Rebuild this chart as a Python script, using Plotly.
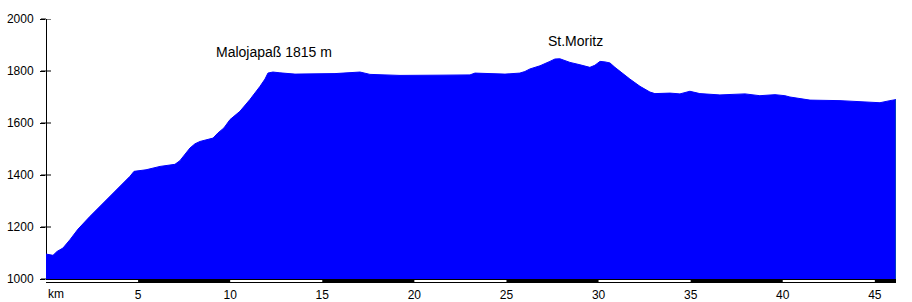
import plotly.graph_objects as go

# Elevation profile (km, m)
km = [0.0, 0.38, 0.60, 0.92, 1.30, 1.74, 2.39, 3.20, 4.02, 4.56, 4.78, 5.43, 6.19, 7.00,
      7.27, 7.55, 7.82, 8.09, 8.36, 9.07, 9.34, 9.66, 9.99, 10.53, 11.07, 11.62, 11.89,
      12.05, 12.32, 12.70, 13.52, 15.69, 17.05, 17.59, 19.22, 21.39, 23.02, 23.29, 24.65,
      24.92, 25.73, 26.00, 26.28, 26.82, 27.36, 27.63, 27.90, 28.45, 28.99, 29.53, 29.80,
      30.08, 30.35, 30.62, 30.89, 31.16, 31.70, 32.25, 32.79, 33.06, 33.88, 34.42, 34.96,
      35.50, 36.59, 37.95, 38.76, 39.58, 40.12, 40.39, 40.93, 41.48, 43.11, 44.19, 45.28,
      45.82, 46.15]
elev = [1096, 1091, 1106, 1119, 1151, 1192, 1241, 1298, 1356, 1395, 1414, 1420, 1433, 1441,
        1455, 1478, 1504, 1520, 1529, 1542, 1562, 1581, 1613, 1645, 1690, 1741, 1769,
        1792, 1796, 1793, 1788, 1790, 1796, 1787, 1783, 1784, 1785, 1792, 1789,
        1788, 1792, 1798, 1808, 1820, 1837, 1846, 1847, 1833, 1824, 1814, 1822,
        1837, 1835, 1831, 1814, 1798, 1769, 1741, 1719, 1713, 1715, 1712, 1722,
        1713, 1708, 1712, 1705, 1709, 1705, 1700, 1693, 1688, 1686, 1682, 1678,
        1686, 1690]

y_ticks = [1000, 1200, 1400, 1600, 1800, 2000]
x_ticks = [5, 10, 15, 20, 25, 30, 35, 40, 45]
x_labels = [str(v) for v in x_ticks]
segments = [0, 5, 10, 15, 20, 25, 30, 35, 40, 45, 46.15]

labels = [("Malojapaß 1815 m", 12.4, 1873), ("St.Moritz", 28.77, 1916)]

FONT = "Liberation Sans, Arial, sans-serif"
Y_RANGE = [y_ticks[0], y_ticks[-1]]

W = 912 - 46 - 16
H = 302 - 19 - 23
KM_PER_PX = segments[-1] / W
M_PER_PX = (Y_RANGE[1] - Y_RANGE[0]) / H

fig = go.Figure()
fig.add_trace(go.Scatter(x=km, y=elev, mode="lines", line=dict(color="#0000FF", width=1),
                         fill="tozeroy", fillcolor="#0000FF", hoverinfo="skip", showlegend=False))
fig.add_trace(go.Scatter(x=[km[-1], km[-1]], y=[Y_RANGE[0], elev[-1]], mode="lines",
                         line=dict(color="#008080", width=1), hoverinfo="skip", showlegend=False))

shapes = []
# y axis line inside the first pixel column, beneath the profile
shapes.append(dict(type="rect", xref="x", yref="y", x0=0, x1=KM_PER_PX, y0=Y_RANGE[0], y1=Y_RANGE[1],
                   fillcolor="black", line=dict(width=0), layer="below"))
for t in y_ticks:
    # inner half of the crossing tick (beneath the profile)
    shapes.append(dict(type="rect", xref="x", yref="y", x0=0, x1=5 * KM_PER_PX,
                       y0=t - 0.5 * M_PER_PX, y1=t + 0.5 * M_PER_PX,
                       fillcolor="black", line=dict(width=0), layer="below"))
    # outer half of the crossing tick
    py = (t - Y_RANGE[0]) / (Y_RANGE[1] - Y_RANGE[0])
    shapes.append(dict(type="rect", xref="paper", yref="paper", x0=-5 / W, x1=0,
                       y0=py - 0.5 / H, y1=py + 0.5 / H,
                       fillcolor="black", line=dict(width=0), layer="above"))
# scale bar under the axis
shapes.append(dict(type="rect", xref="x", yref="paper", x0=segments[0], x1=segments[-1],
                   y0=-4 / H, y1=0, fillcolor="black", line=dict(width=0), layer="above"))
for i in range(len(segments) - 1):
    if i % 2 == 0:
        shapes.append(dict(type="rect", xref="x", yref="paper", x0=segments[i], x1=segments[i + 1],
                           y0=-3 / H, y1=-1 / H, fillcolor="white", line=dict(width=0), layer="above"))

annotations = [dict(x=x, y=y, text=t, showarrow=False, xref="x", yref="y",
                    font=dict(family=FONT, size=14, color="black")) for t, x, y in labels]
annotations.append(dict(x=0, y=0, xref="x", yref="paper", text="km", showarrow=False,
                        xanchor="left", yanchor="top", yshift=-6,
                        font=dict(family=FONT, size=12, color="black")))

fig.update_layout(
    width=912, height=302,
    margin=dict(l=46, r=16, t=19, b=23, autoexpand=False),
    paper_bgcolor="white", plot_bgcolor="white",
    font=dict(family=FONT, size=12, color="black"),
    shapes=shapes, annotations=annotations,
    xaxis=dict(range=[0, segments[-1]], showgrid=False, zeroline=False, showline=False,
               tickvals=x_ticks, ticktext=x_labels, ticks="", ticklabelstandoff=7,
               automargin=False, tickfont=dict(family=FONT, size=12, color="black")),
    yaxis=dict(range=Y_RANGE, showgrid=False, zeroline=False, showline=False,
               tickvals=y_ticks, ticks="outside", ticklen=5, tickwidth=1, tickcolor="black",
               automargin=False, ticklabelstandoff=4,
               tickfont=dict(family=FONT, size=12, color="black")),
)

fig.write_html("out.html")
